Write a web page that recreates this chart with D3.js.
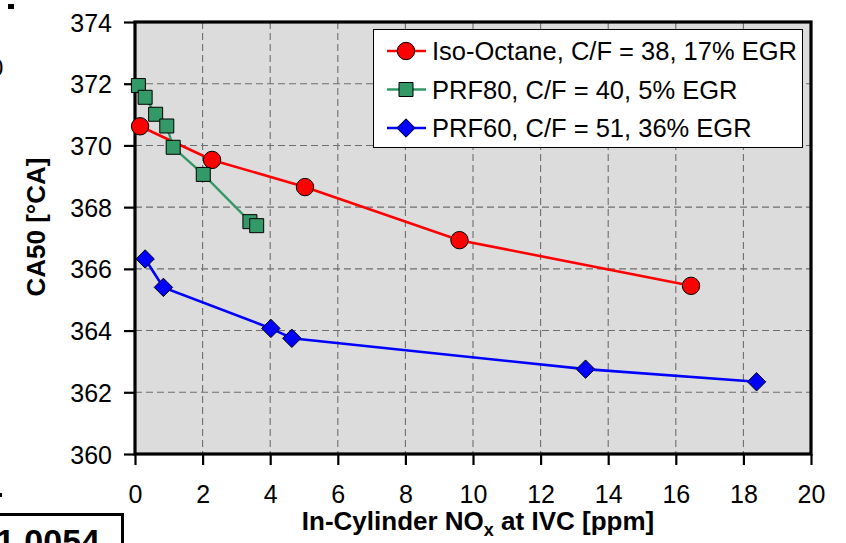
<!DOCTYPE html>
<html>
<head>
<meta charset="utf-8">
<script src="https://cdn.jsdelivr.net/npm/d3@7"></script>
<style>
  html, body { margin: 0; padding: 0; background: #fff; }
  svg { display: block; font-family: "Liberation Sans", Arial, Helvetica, sans-serif; }
</style>
</head>
<body>
<svg id="chart" width="846" height="543"></svg>
<script>
// NOx at IVC [ppm] and CA50 [°CA] for each fuel
const isoOctaneNox = [0.15, 2.28, 5.03, 9.60, 16.45];
const isoOctaneCa50 = [370.62, 369.53, 368.65, 366.93, 365.45];

const prf80Nox = [0.10, 0.30, 0.61, 0.94, 1.13, 2.02, 3.40, 3.60];
const prf80Ca50 = [371.94, 371.56, 371.01, 370.63, 369.94, 369.06, 367.53, 367.40];

const prf60Nox = [0.30, 0.84, 4.02, 4.64, 13.33, 18.39];
const prf60Ca50 = [366.32, 365.40, 364.07, 363.75, 362.75, 362.34];

const seriesNames = [
  "Iso-Octane, C/F = 38, 17% EGR",
  "PRF80, C/F = 40, 5% EGR",
  "PRF60, C/F = 51, 36% EGR"
];

const xTicks = [0, 2, 4, 6, 8, 10, 12, 14, 16, 18, 20];
const yTicks = [360, 362, 364, 366, 368, 370, 372, 374];

const svg = d3.select("#chart");
const plot = { left: 135, right: 811, top: 22, bottom: 454 };

const x = d3.scaleLinear().domain([0, 20]).range([plot.left, plot.right]);
const y = d3.scaleLinear().domain([360, 374]).range([plot.bottom, plot.top]);

// plot background
svg.append("rect")
  .attr("x", plot.left).attr("y", plot.top)
  .attr("width", plot.right - plot.left).attr("height", plot.bottom - plot.top)
  .attr("fill", "#dcdcdc");

// dashed grid
const grid = svg.append("g").attr("stroke", "#6e6e6e").attr("stroke-width", 1.1)
  .attr("stroke-dasharray", "7,4");
grid.selectAll("line.v").data(xTicks.slice(1, -1)).join("line")
  .attr("x1", d => x(d)).attr("x2", d => x(d))
  .attr("y1", plot.top).attr("y2", plot.bottom);
grid.selectAll("line.h").data(yTicks.slice(1, -1)).join("line")
  .attr("x1", plot.left).attr("x2", plot.right)
  .attr("y1", d => y(d)).attr("y2", d => y(d));

// axes
const xAxis = d3.axisBottom(x).tickValues(xTicks).tickSizeInner(11).tickSizeOuter(0).tickPadding(20);
const yAxis = d3.axisLeft(y).tickValues(yTicks).tickSizeInner(11).tickSizeOuter(0).tickPadding(12);

const gx = svg.append("g").attr("transform", `translate(0,${plot.bottom})`).call(xAxis);
const gy = svg.append("g").attr("transform", `translate(${plot.left},0)`).call(yAxis);
[gx, gy].forEach(g => {
  g.select(".domain").remove();
  g.selectAll(".tick line").attr("stroke", "#000").attr("stroke-width", 2.2);
  g.selectAll(".tick text").attr("fill", "#000")
    .style("font-size", "25px").style("font-family", "'Liberation Sans', Arial, sans-serif");
});
gy.selectAll(".tick text").attr("dy", "0.36em");

// frame
svg.append("rect")
  .attr("x", plot.left).attr("y", plot.top)
  .attr("width", plot.right - plot.left).attr("height", plot.bottom - plot.top)
  .attr("fill", "none").attr("stroke", "#000").attr("stroke-width", 3.2);

// series
const line = d3.line().x(d => x(d[0])).y(d => y(d[1]));
const zip = (a, b) => a.map((v, i) => [v, b[i]]);

const circleSym = d3.symbol().type(d3.symbolCircle).size(Math.PI * 8.7 * 8.7);
const squareSym = d3.symbol().type(d3.symbolSquare).size(14 * 14);
const diamondPath = r => `M0,${-r}L${r},0L0,${r}L${-r},0Z`;

const series = [
  { name: seriesNames[0], pts: zip(isoOctaneNox, isoOctaneCa50), color: "#ff0000", width: 2.6, marker: () => circleSym() },
  { name: seriesNames[1], pts: zip(prf80Nox, prf80Ca50), color: "#339966", width: 2.4, marker: () => squareSym() },
  { name: seriesNames[2], pts: zip(prf60Nox, prf60Ca50), color: "#0000ff", width: 2.6, marker: () => diamondPath(9.2) }
];

series.forEach(s => {
  svg.append("path").datum(s.pts)
    .attr("d", line).attr("fill", "none")
    .attr("stroke", s.color).attr("stroke-width", s.width);
});
series.forEach(s => {
  svg.append("g").selectAll("path").data(s.pts).join("path")
    .attr("transform", d => `translate(${x(d[0])},${y(d[1])})`)
    .attr("d", s.marker)
    .attr("fill", s.color).attr("stroke", "#000").attr("stroke-width", 1);
});

// legend
const legend = svg.append("g");
legend.append("rect")
  .attr("x", 373.5).attr("y", 29.5).attr("width", 429).attr("height", 118)
  .attr("fill", "#fff").attr("stroke", "#000").attr("stroke-width", 1);
series.forEach((s, i) => {
  const cy = 51 + i * 38.5;
  const row = legend.append("g");
  row.append("line").attr("x1", 387).attr("x2", 426).attr("y1", cy).attr("y2", cy)
    .attr("stroke", s.color).attr("stroke-width", s.width);
  row.append("path").attr("transform", `translate(406,${cy})`).attr("d", s.marker())
    .attr("fill", s.color).attr("stroke", "#000").attr("stroke-width", 1);
  row.append("text").attr("x", 432).attr("y", cy).attr("dy", "0.36em")
    .style("font-size", "25.5px").text(s.name);
});

// axis titles
const xt = svg.append("text")
  .attr("x", 478).attr("y", 530).attr("text-anchor", "middle")
  .style("font-size", "26px").style("font-weight", "bold");
xt.append("tspan").text("In-Cylinder NO");
xt.append("tspan").attr("dy", 6).style("font-size", "18px").text("x");
xt.append("tspan").attr("dy", -6).text(" at IVC [ppm]");

svg.append("text")
  .attr("transform", "translate(45,227) rotate(-90)")
  .attr("text-anchor", "middle")
  .style("font-size", "26px").style("font-weight", "bold")
  .text("CA50 [°CA]");

// neighbouring panel fragments at the left edge
svg.append("rect").attr("x", 8).attr("y", 4).attr("width", 6).attr("height", 5).attr("fill", "#000");
svg.append("text").attr("x", -10).attr("y", 76).style("font-size", "24px").text("0");
svg.append("rect").attr("x", 0).attr("y", 493).attr("width", 2).attr("height", 4).attr("fill", "#000");
svg.append("path").attr("d", "M0,514.5H122.5V543").attr("fill", "none").attr("stroke", "#000").attr("stroke-width", 3);
svg.append("text").attr("x", -4).attr("y", 553).style("font-size", "34px").style("font-weight", "bold").text("1.0054");
</script>
</body>
</html>
